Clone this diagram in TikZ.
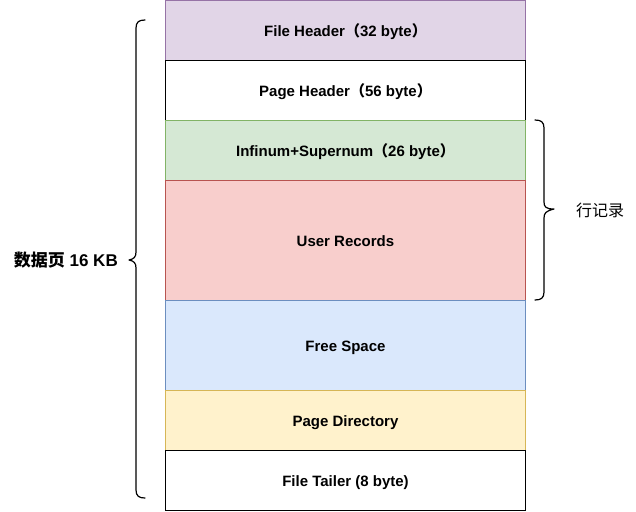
\documentclass[tikz,border=0pt]{standalone}
\usepackage{fontspec}
\setmainfont{Liberation Sans}
\newfontfamily\cjk{Noto Sans CJK SC}
\definecolor{purpleF}{HTML}{E1D5E7}
\definecolor{purpleD}{HTML}{9673A6}
\definecolor{greenF}{HTML}{D5E8D4}
\definecolor{greenD}{HTML}{82B366}
\definecolor{redF}{HTML}{F8CECC}
\definecolor{redD}{HTML}{B85450}
\definecolor{blueF}{HTML}{DAE8FC}
\definecolor{blueD}{HTML}{6C8EBF}
\definecolor{yellowF}{HTML}{FFF2CC}
\definecolor{yellowD}{HTML}{D6B656}
\newcommand{\fw}[1]{{\cjk #1}}
\begin{document}
\begin{tikzpicture}[x=1pt,y=-1pt,
  layer/.style={draw, line width=1pt, minimum width=360pt, inner sep=0pt,
    text height=12pt, text depth=0pt,
    anchor=north west, font=\bfseries\fontsize{15}{17}\selectfont},
  bracket/.style={line width=1.2pt, line cap=round, line join=round}]
\useasboundingbox (0,0) rectangle (636,511);
% page layers, top to bottom
\node[layer, fill=purpleF, draw=purpleD, minimum height=59.5pt] (fh) at (165,0.5) {File Header\fw{（}32 byte\fw{）}};
\node[layer, fill=white, draw=black, minimum height=60pt] (ph) at (165,60) {Page Header\fw{（}56 byte\fw{）}};
\node[layer, fill=greenF, draw=greenD, minimum height=60pt] (inf) at (165,120) {Infinum+Supernum\fw{（}26 byte\fw{）}};
\node[layer, fill=redF, draw=redD, minimum height=120pt] (ur) at (165,180) {User Records};
\node[layer, fill=blueF, draw=blueD, minimum height=90pt] (fs) at (165,300) {Free Space};
\node[layer, fill=yellowF, draw=yellowD, minimum height=60pt] (pd) at (165,390) {Page Directory};
\node[layer, fill=white, draw=black, minimum height=60pt] (ft) at (165,450) {File Tailer (8 byte)};
% whole-page bracket
\draw[bracket] (145,20) .. controls (139,20) and (136,22) .. (136,28) -- (136,252)
  .. controls (136,257) and (134,259) .. (129,260)
  .. controls (134,261) and (136,263) .. (136,268) -- (136,490)
  .. controls (136,496) and (139,498) .. (145,498);
\node[anchor=east, inner sep=0pt, font=\bfseries\fontsize{17}{19}\selectfont] (page) at (118,260) {{\cjk\bfseries 数据页} 16 KB};
% row records bracket
\draw[bracket] (535,120) .. controls (541,120) and (544,122) .. (544,128) -- (544,202)
  .. controls (544,207) and (546,209) .. (554,209)
  .. controls (546,211) and (544,213) .. (544,218) -- (544,292)
  .. controls (544,298) and (541,300) .. (535,300);
\node[anchor=west, inner sep=0pt, font=\fontsize{16}{18}\selectfont] (rows) at (576,210) {\cjk 行记录};
\end{tikzpicture}
\end{document}
